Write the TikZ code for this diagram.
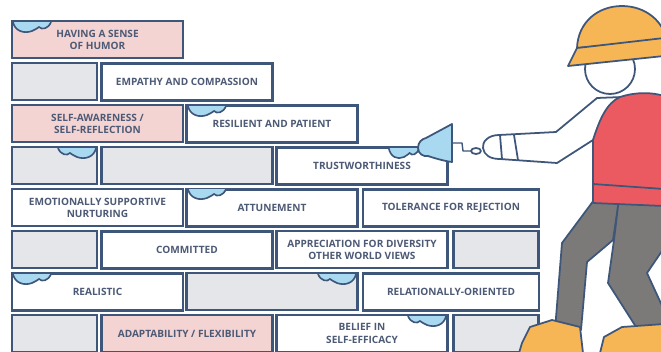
\documentclass[tikz,border=0pt]{standalone}
\usepackage{fontspec}
\setmainfont{Open Sans}
\usepackage{tikz}

\definecolor{edge}{HTML}{3E5679}
\definecolor{ink}{HTML}{4D5A76}
\definecolor{corefill}{HTML}{F3D4D3}
\definecolor{sparefill}{HTML}{E4E6E9}
\definecolor{mortar}{HTML}{A8D9F1}
\definecolor{hat}{HTML}{F6B656}
\definecolor{vest}{HTML}{EC5A61}
\definecolor{pants}{HTML}{7B7A79}

\begin{document}
\begin{tikzpicture}[
    x=0.03cm, y=-0.03cm,
    brick/.style={draw=edge, line width=1.8pt, fill=white, minimum height=1.11cm, inner sep=0pt, align=center, text=ink, font=\fontsize{8.6}{10.4}\selectfont\bfseries},
    full/.style={brick, minimum width=5.13cm},
    half/.style={brick, minimum width=2.55cm},
    long/.style={brick, minimum width=5.28cm},
    core/.style={fill=corefill},
    spare/.style={fill=sparefill},
    cloudline/.style={draw=edge, line width=1.4pt, line cap=round},
    body/.style={draw=edge, line width=1.5pt, line join=round}
]
\clip (0,0) rectangle (661,351);
\fill[white] (0,0) rectangle (661,351);

% Row 1
\node[full, core] (humor) at (97.5,39.5) {HAVING A SENSE\\OF HUMOR};

% Row 2
\node[half, spare] (r2a) at (54.5,81.5) {};
\node[full] (empathy) at (187,82) {EMPATHY AND COMPASSION};

% Row 3
\node[full, core] (selfaware) at (97.5,123.5) {SELF-AWARENESS /\\SELF-REFLECTION};
\node[full] (resilient) at (272,124) {RESILIENT AND PATIENT};

% Row 4
\node[half, spare] (r4a) at (54.5,165.5) {};
\node[full, spare] (r4b) at (187,165.5) {};
\node[full] (trust) at (362,166) {TRUSTWORTHINESS};

% Row 5
\node[full] (supportive) at (97.5,207.5) {EMOTIONALLY SUPPORTIVE\\NURTURING};
\node[full] (attunement) at (272,208) {ATTUNEMENT};
\node[long] (tolerance) at (451,208) {TOLERANCE FOR REJECTION};

% Row 6
\node[half, spare] (r6a) at (54.5,249.5) {};
\node[full] (committed) at (187,250) {COMMITTED};
\node[full] (diversity) at (362,249.5) {APPRECIATION FOR DIVERSITY\\OTHER WORLD VIEWS};
\node[half, spare] (r6d) at (496,249.5) {};

% Row 7
\node[full] (realistic) at (97.5,292) {REALISTIC};
\node[full, spare] (r7b) at (272,291.5) {};
\node[long] (relational) at (451,292) {RELATIONALLY-ORIENTED};

% Row 8
\node[half, spare] (r8a) at (54.5,333.5) {};
\node[full, core] (adapt) at (187,333.5) {ADAPTABILITY / FLEXIBILITY};
\node[full] (efficacy) at (362,333.5) {BELIEF IN\\SELF-EFFICACY};
\node[half, spare] (r8d) at (496,333.5) {};

% Mortar blobs under the top edges
\foreach \cx/\cy/\dir in {12/21/1, 187/105/1, 97/147/-1, 388/147/0.8, 187/188/1, 12/273/1, 357/273/-1, 447/315/-1}{
  \begin{scope}[shift={(\cx,\cy)}, xscale=\dir]
    \fill[mortar] (1,1.2) .. controls (3,10) and (12,13) .. (20,10) .. controls (24,8) and (26,7) .. (27,6) .. controls (30,9) and (36,8) .. (39,1.2) -- cycle;
    \draw[cloudline] (1,1.2) .. controls (3,10) and (12,13) .. (20,10) .. controls (24,8) and (26,7) .. (27,6) .. controls (30,9) and (36,8) .. (39,1.2);
  \end{scope}
}

% Legs
\draw[body, fill=pants] (594,200) -- (562,243) -- (555,330) -- (581,330) -- (587,262) -- (613,240) -- (619,200) -- cycle;
\draw[body, fill=pants] (619,198) -- (664,198) -- (664,248) -- (647,273) -- (664,310) -- (664,340) -- (638,330) -- (608,283) -- (614,240) -- cycle;

% Shoes
\draw[body, fill=hat] (519,353) -- (522,343) -- (530,327) -- (552,320) -- (580,327) -- (583,353);
\draw[body, fill=hat] (600,353) -- (604,337) -- (622,327) -- (664,324) -- (664,353);

% Arm and trowel
\fill[white] (622,97) -- (597,98) -- (556,132) -- (499,135) -- (490,158) -- (557,163) -- (593,140) -- cycle;
\draw[body] (622,97) -- (597,98) -- (556,132) -- (499,135) .. controls (488,135) and (482,142) .. (483,148) .. controls (484,155) and (490,159) .. (500,159) -- (557,163) -- (593,140);
\draw[body] (500,135) -- (502,159) (514,135) -- (518,160);
\draw[body, line width=1.2pt] (471,151) -- (463,151) -- (462,143) -- (452,143);
\draw[body, fill=white] (476,151) ellipse [x radius=5, y radius=3];
\draw[body, fill=mortar] (452,124) -- (452,162) .. controls (444,161) and (434,158) .. (428,156) .. controls (424,157) and (418,154) .. (418,148) .. controls (418,142) and (422,139) .. (426,138) -- cycle;

% Vest
\draw[body, fill=vest] (593,203) -- (593,140) .. controls (600,118) and (607,103) .. (620,97) .. controls (635,92) and (652,92) .. (664,96) -- (664,206) -- cycle;
\draw[body] (593,184) -- (664,189);

% Head and hat
\draw[body, fill=white] (610,69) circle [radius=25];
\draw[body, fill=hat] (577,48) .. controls (578,22) and (598,6) .. (622,6) .. controls (646,6) and (664,22) .. (666,40) -- cycle;
\draw[body, fill=hat] (577,48) -- (568,66) -- (664,56) -- (664,38) -- cycle;

\end{tikzpicture}
\end{document}
